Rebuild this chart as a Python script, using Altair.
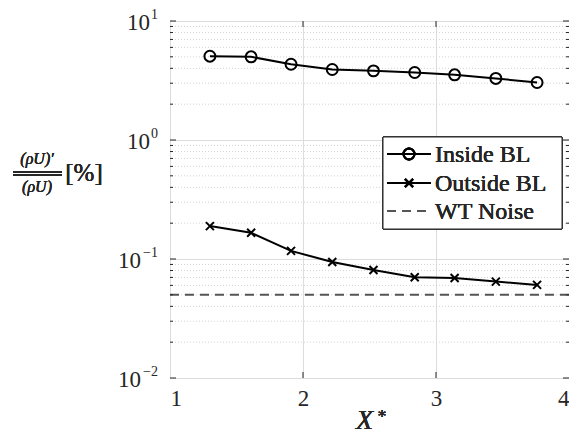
import altair as alt
import pandas as pd

# ---- data ----
x_vals = [1.30, 1.61, 1.91, 2.22, 2.53, 2.84, 3.14, 3.45, 3.76]
inside_bl = [5.06, 5.00, 4.33, 3.91, 3.81, 3.69, 3.53, 3.29, 3.04]
outside_bl = [0.189, 0.166, 0.117, 0.0944, 0.0809, 0.0702, 0.0693, 0.0646, 0.0606]
wt_noise = [0.05]
x_ticks = [1, 2, 3, 4]
x_inner_ticks = [2, 3]
y_decades = [0.01, 0.1, 1, 10]
y_exponents = ["\u22122", "\u22121", "0", "1"]
y_minor = [0.02, 0.03, 0.04, 0.05, 0.06, 0.07, 0.08, 0.09,
           0.2, 0.3, 0.4, 0.5, 0.6, 0.7, 0.8, 0.9,
           2, 3, 4, 5, 6, 7, 8, 9]
legend_labels = ["Inside BL", "Outside BL", "WT Noise"]

W, H = 399, 357
FONT = "Liberation Serif"
AX = "#262626"

df_in = pd.DataFrame({"x": x_vals, "y": inside_bl})
df_out = pd.DataFrame({"x": x_vals, "y": outside_bl})
df_noise = pd.DataFrame({"y": wt_noise})
df_minor = pd.DataFrame({"y": y_minor})
df_dec = pd.DataFrame({"y": y_decades, "e": y_exponents})
df_xt = pd.DataFrame({"x": x_inner_ticks})

xs = alt.Scale(domain=[1, 4], nice=False, zero=False)
ys = alt.Scale(type="log", domain=[0.01, 10], nice=False)

x_axis = alt.Axis(values=x_ticks, grid=True, gridColor="#dcdcdc", gridWidth=1,
                  domain=False, ticks=False, labelFont=FONT, labelFontSize=23,
                  labelFontWeight="normal",
                  labelColor=AX, labelPadding=9, title=None)
y_axis = alt.Axis(values=y_decades, grid=True, gridColor="#dcdcdc", gridWidth=1,
                  domain=False, ticks=False, labels=False, title=None)


def X(field="x"):
    return alt.X(f"{field}:Q", scale=xs, axis=x_axis)


def Y(field="y"):
    return alt.Y(f"{field}:Q", scale=ys, axis=y_axis)


def txt(**kw):
    base = dict(font=FONT, fontWeight="normal", color=AX, baseline="middle")
    base.update(kw)
    return base


base_x = alt.Chart(df_in).mark_point(opacity=0).encode(x=X(), y=Y())

minor_grid = alt.Chart(df_minor).mark_rule(color="#c8c8c8", strokeDash=[1, 2],
                                          strokeWidth=0.8).encode(y=Y())

noise = alt.Chart(df_noise).mark_rule(color="#555555", strokeDash=[9, 6],
                                     strokeWidth=2).encode(y=Y())

line_in = alt.Chart(df_in).mark_line(color="black", strokeWidth=2).encode(x=X(), y=Y())
pts_in = alt.Chart(df_in).mark_point(shape="circle", size=120, filled=False,
                                     color="black", strokeWidth=2,
                                     opacity=1).encode(x=X(), y=Y())
line_out = alt.Chart(df_out).mark_line(color="black", strokeWidth=2).encode(x=X(), y=Y())
CROSS = "M-1,-1L1,1M-1,1L1,-1"
pts_out = alt.Chart(df_out).mark_point(shape=CROSS, size=64, filled=False,
                                       color="black", strokeWidth=2,
                                       opacity=1).encode(x=X(), y=Y())

# inward ticks (MATLAB box style)
yt_major_l = alt.Chart(df_dec).mark_rule(color=AX).encode(y=Y(), x=alt.value(0), x2=alt.value(6))
yt_major_r = alt.Chart(df_dec).mark_rule(color=AX).encode(y=Y(), x=alt.value(W - 6), x2=alt.value(W))
yt_minor_l = alt.Chart(df_minor).mark_rule(color=AX).encode(y=Y(), x=alt.value(0), x2=alt.value(3))
yt_minor_r = alt.Chart(df_minor).mark_rule(color=AX).encode(y=Y(), x=alt.value(W - 3), x2=alt.value(W))
xt_b = alt.Chart(df_xt).mark_rule(color=AX).encode(x=X(), y=alt.value(H), y2=alt.value(H - 6))
xt_t = alt.Chart(df_xt).mark_rule(color=AX).encode(x=X(), y=alt.value(0), y2=alt.value(6))

# y tick labels: "10" with superscript exponent
exp_lab = alt.Chart(df_dec).mark_text(**txt(fontSize=14, align="right", dy=-6)).encode(
    y=Y(), x=alt.value(-12), text="e:N")
ten_lab = alt.Chart(df_dec).transform_calculate(
    px="length(datum.e) > 1 ? -29 : -20"
).mark_text(**txt(fontSize=23, align="right", dy=2, text="10")).encode(
    y=Y(), x=alt.X("px:Q", scale=None))

# x title
x_title = alt.Chart(df_dec).mark_text(**txt(fontSize=28, fontStyle="italic", align="center",
                                            baseline="alphabetic", text="X")).encode(
    x=alt.value(W / 2 - 5), y=alt.value(H + 51))
x_title_star = alt.Chart(df_dec).mark_text(**txt(fontSize=18, align="left",
                                                 baseline="alphabetic", text="*")).encode(
    x=alt.value(W / 2 + 8), y=alt.value(H + 45))

# y title (fraction)
yt_num = alt.Chart(df_dec).mark_text(**txt(fontSize=16, fontStyle="italic", align="center",
                                           text="(\u03c1U)\u2032")).encode(
    x=alt.value(-133), y=alt.value(138))
yt_bar1 = alt.Chart(df_dec).mark_rule(color=AX, strokeWidth=1.3).encode(
    x=alt.value(-157), x2=alt.value(-108), y=alt.value(151))
yt_bar2 = alt.Chart(df_dec).mark_rule(color=AX, strokeWidth=1.3).encode(
    x=alt.value(-157), x2=alt.value(-108), y=alt.value(154))
yt_den = alt.Chart(df_dec).mark_text(**txt(fontSize=16, fontStyle="italic", align="center",
                                           text="(\u03c1U)")).encode(
    x=alt.value(-133), y=alt.value(166))
yt_pct = alt.Chart(df_dec).mark_text(**txt(fontSize=25, align="center", text="[%]")).encode(
    x=alt.value(-86), y=alt.value(152))

# legend
LX0, LX1, LY0, LY1 = 213, 392, 116, 208
rows = [133, 162, 190]
leg_box = alt.Chart(df_dec).mark_rect(fill="white", stroke=AX, strokeWidth=1).encode(
    x=alt.value(LX0), x2=alt.value(LX1), y=alt.value(LY0), y2=alt.value(LY1))
leg_layers = [leg_box]
for i, lab in enumerate(legend_labels):
    if i < 2:
        leg_layers.append(alt.Chart(df_dec).mark_rule(color="black", strokeWidth=2).encode(
            x=alt.value(217), x2=alt.value(261), y=alt.value(rows[i])))
    else:
        leg_layers.append(alt.Chart(df_dec).mark_rule(color="#555555", strokeWidth=2,
                                                      strokeDash=[9, 6]).encode(
            x=alt.value(217), x2=alt.value(261), y=alt.value(rows[i])))
    if i == 0:
        leg_layers.append(alt.Chart(df_dec).mark_point(shape="circle", size=120, filled=False,
                                                       color="black", strokeWidth=2,
                                                       opacity=1).encode(
            x=alt.value(239), y=alt.value(rows[i])))
    elif i == 1:
        leg_layers.append(alt.Chart(df_dec).mark_point(shape=CROSS, size=64, filled=False,
                                                       color="black", strokeWidth=2,
                                                       opacity=1).encode(
            x=alt.value(239), y=alt.value(rows[i])))
    leg_layers.append(alt.Chart(df_dec).mark_text(**txt(fontSize=24, align="left",
                                                        text=lab)).encode(
        x=alt.value(265), y=alt.value(rows[i] + 1)))

chart = alt.layer(
    base_x, minor_grid, noise, line_in, pts_in, line_out, pts_out,
    yt_major_l, yt_major_r, yt_minor_l, yt_minor_r, xt_b, xt_t,
    exp_lab, ten_lab, x_title, x_title_star, yt_num, yt_bar1, yt_bar2, yt_den, yt_pct,
    *leg_layers
).properties(
    width=W, height=H,
    autosize=alt.AutoSizeParams(type="none"),
    padding={"left": 162, "top": 13, "right": 0, "bottom": 56},
).configure_view(stroke=AX, strokeWidth=1.2).configure(background="white")

chart.save("out.html", embed_options={"renderer": "svg", "actions": False})
